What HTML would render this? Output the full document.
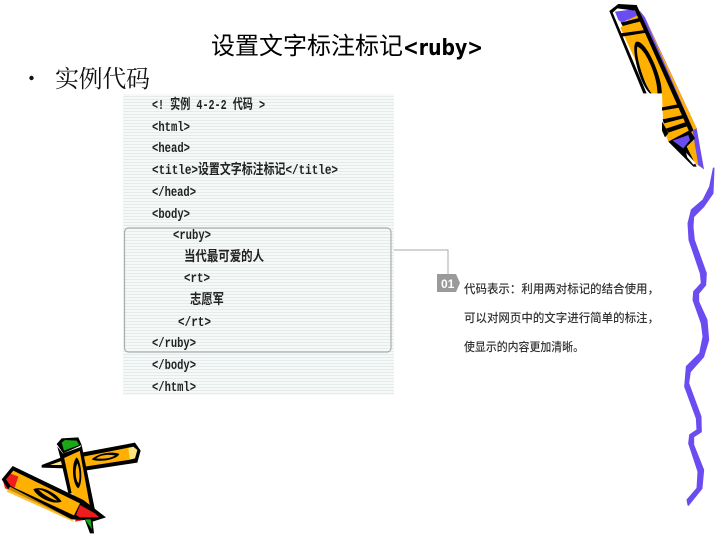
<!DOCTYPE html>
<html><head><meta charset="utf-8"><style>
html,body{margin:0;padding:0;background:#fff;width:720px;height:540px;overflow:hidden}
svg{display:block}
.c{font-family:"Liberation Mono","Noto Sans CJK SC",monospace;font-size:14px;font-weight:bold;fill:#222}
.z{font-family:"Noto Sans CJK SC",sans-serif;font-size:12px;font-weight:500;fill:#333}
</style></head><body>
<svg width="720" height="540" viewBox="0 0 720 540" xmlns="http://www.w3.org/2000/svg">
<defs><pattern id="s" width="3" height="3" patternUnits="userSpaceOnUse"><rect width="3" height="3" fill="#f7f9f9"/><rect width="3" height="1" fill="#e4ebeb"/></pattern></defs>
<rect x="123" y="94" width="271" height="301" fill="url(#s)"/>
<rect x="124.5" y="228" width="266.5" height="124" rx="4" fill="url(#s)" stroke="#a9aeae" stroke-width="1.2"/>
<text x="211" y="54" font-family="'Noto Sans CJK SC',sans-serif" font-size="24" fill="#000" textLength="192" lengthAdjust="spacing">设置文字标注标记</text>
<text x="403" y="55" font-family="'DejaVu Sans',sans-serif" font-size="22" font-weight="bold" fill="#000" textLength="80" lengthAdjust="spacingAndGlyphs">&lt;ruby&gt;</text>
<circle cx="31.5" cy="78" r="2.2" fill="#111"/>
<text x="55" y="87" font-family="'Noto Serif CJK SC',serif" font-size="24" fill="#111" textLength="95">实例代码</text>
<text class="c" x="152" y="109" textLength="113" lengthAdjust="spacingAndGlyphs">&lt;! 实例 4-2-2 代码 &gt;</text>
<text class="c" x="152" y="131" textLength="38" lengthAdjust="spacingAndGlyphs">&lt;html&gt;</text>
<text class="c" x="152" y="152" textLength="38" lengthAdjust="spacingAndGlyphs">&lt;head&gt;</text>
<text class="c" x="152" y="174" textLength="186" lengthAdjust="spacingAndGlyphs">&lt;title&gt;设置文字标注标记&lt;/title&gt;</text>
<text class="c" x="152" y="196" textLength="44" lengthAdjust="spacingAndGlyphs">&lt;/head&gt;</text>
<text class="c" x="152" y="218" textLength="38" lengthAdjust="spacingAndGlyphs">&lt;body&gt;</text>
<text class="c" x="173" y="239" textLength="38" lengthAdjust="spacingAndGlyphs">&lt;ruby&gt;</text>
<text class="c" x="184" y="261" textLength="80" lengthAdjust="spacingAndGlyphs">当代最可爱的人</text>
<text class="c" x="184" y="282" textLength="26" lengthAdjust="spacingAndGlyphs">&lt;rt&gt;</text>
<text class="c" x="190" y="304" textLength="34" lengthAdjust="spacingAndGlyphs">志愿军</text>
<text class="c" x="178" y="326" textLength="33" lengthAdjust="spacingAndGlyphs">&lt;/rt&gt;</text>
<text class="c" x="152" y="347" textLength="44" lengthAdjust="spacingAndGlyphs">&lt;/ruby&gt;</text>
<text class="c" x="152" y="369" textLength="44" lengthAdjust="spacingAndGlyphs">&lt;/body&gt;</text>
<text class="c" x="152" y="391" textLength="44" lengthAdjust="spacingAndGlyphs">&lt;/html&gt;</text>
<path d="M394 250H448V274" fill="none" stroke="#a8a8a8" stroke-width="1"/>
<path d="M437 274H456L460 283L456 292H437Z" fill="#9a9a9a"/>
<text x="441" y="288" font-family="'Liberation Sans',sans-serif" font-size="12" font-weight="bold" fill="#fff">01</text>
<text class="z" x="464" y="293" textLength="195" lengthAdjust="spacingAndGlyphs">代码表示：利用两对标记的结合使用，</text>
<text class="z" x="464" y="322" textLength="195" lengthAdjust="spacingAndGlyphs">可以对网页中的文字进行简单的标注，</text>
<text class="z" x="464" y="351" textLength="120" lengthAdjust="spacingAndGlyphs">使显示的内容更加清晰。</text>

<g transform="translate(580 0) scale(.3333)">
<path d="M175 28L195 55L350 385L372 508L345 490L265 425L250 385L246 280L190 280L115 90Z" fill="#ffb000"/>
<path d="M178 30L195 52L350 385L372 508L355 495L338 395L190 60Z" fill="#6a4cf0"/>
<path d="M195 55L350 385L340 390Z" fill="#ffb000"/>
<path d="M98 38L198 280H212L122 85L110 36Z" fill="#fff"/>
<path d="M105 35L160 28L175 45L125 68L115 60Z" fill="#6a4cf0"/>
<path d="M88 33L115 12L170 15L340 390L330 400L165 32L112 25L98 38L200 280H190Z" fill="#000"/>
<path d="M122 68L185 52L190 62L128 78Z M120 100L195 90L200 98L126 110Z" fill="#000"/>
<path d="M170 125C150 130 175 250 210 280H245C250 240 200 120 170 125ZM172 140C200 150 235 240 232 280H215C190 250 165 160 172 140Z" fill="#000"/>
<path d="M246 322L298 312L302 322L246 332ZM248 358L310 345L314 354L252 370ZM258 386L318 366L324 378L265 398Z" fill="#000"/>
<path d="M246 365L258 385L265 400L255 412L246 392Z" fill="#000"/>
<path d="M265 425L330 390L345 415L320 440L350 500L340 500L305 465Z" fill="#000"/>
<path d="M278 422L325 405L330 420L310 445Z" fill="#6a4cf0"/>
<path d="M318 458L348 490L340 494L322 472Z" fill="#fff"/>
</g>

<g transform="translate(670 160) scale(.3333)">
<path d="M131 25L128 100L100 140L70 170L68 200L72 240L108 340L106 375L85 400L85 425L110 480L115 540L100 590L60 635L55 670L92 770L93 815L70 830L70 855L100 930L95 985L55 1035L52 1020L82 985L85 935L57 850L60 825L82 810L80 775L45 680L50 620L90 580L100 530L95 490L70 420L72 395L95 370L92 340L58 240L55 190L65 150L100 120L120 80Z" fill="#6a4cf0" stroke="#6a4cf0" stroke-width="5" stroke-linejoin="round"/>
</g>

<g transform="translate(0 430) scale(.3333)">
<path d="M245 75L405 45L418 65L410 92L255 118Z" fill="#ffb000"/>
<path d="M385 55L410 48L415 70L408 88L390 90Z" fill="#ffe680"/>
<path d="M125 108L190 82L195 105L125 112Z" fill="#ffe680"/>
<path d="M125 105L195 78L198 88L150 105L195 105V115L125 113Z" fill="#000"/>
<path d="M245 68L405 38L422 62L412 98L385 102L255 122V110L385 90L405 85L412 60L400 50L250 80Z" fill="#000"/>
<path d="M275 88C300 65 345 65 358 72C350 90 295 98 275 88ZM288 85C310 88 335 84 345 76C320 72 300 76 288 85Z" fill="#000"/>
<path d="M170 42L185 25L235 22L245 45L190 70Z" fill="#000"/>
<path d="M185 38L195 30L230 32L238 45L192 62Z" fill="#18a818"/>
<path d="M185 72L242 52L275 235L240 215L210 185Z" fill="#ffb000"/>
<path d="M172 50L190 72L215 190L205 190L180 80ZM245 45L285 240H272L238 55ZM185 72L245 50V60L190 85Z" fill="#000"/>
<path d="M230 82C212 100 218 165 235 175C250 160 245 95 230 82ZM232 100C240 120 240 150 235 160C225 145 225 115 232 100Z" fill="#000"/>
<path d="M40 115L245 215L225 268L30 165L15 140Z" fill="#ffb000"/>
<path d="M30 130L55 140L40 185L15 175L8 148Z" fill="#ee1c1c"/>
<path d="M240 220L270 240L300 262L225 275Z" fill="#ee1c1c"/>
<path d="M38 108L250 210L318 262L278 275L282 310H270L255 270L215 268L25 178L5 148ZM40 122L18 148L32 168L222 256L240 220Z" fill="#000" fill-rule="evenodd"/>
<path d="M240 225L285 250L298 262L240 262L228 255Z" fill="#ee1c1c"/>
<path d="M255 268L272 268L276 298Z" fill="#18a818"/>
<path d="M100 178C125 165 170 190 185 215C160 225 115 205 100 178ZM115 178C130 195 155 208 172 212C155 195 130 180 115 178Z" fill="#000"/>
<path d="M30 170L215 268L222 276L20 185Z" fill="#ffb000" opacity=".8"/>
</g>
</svg>
</body></html>
